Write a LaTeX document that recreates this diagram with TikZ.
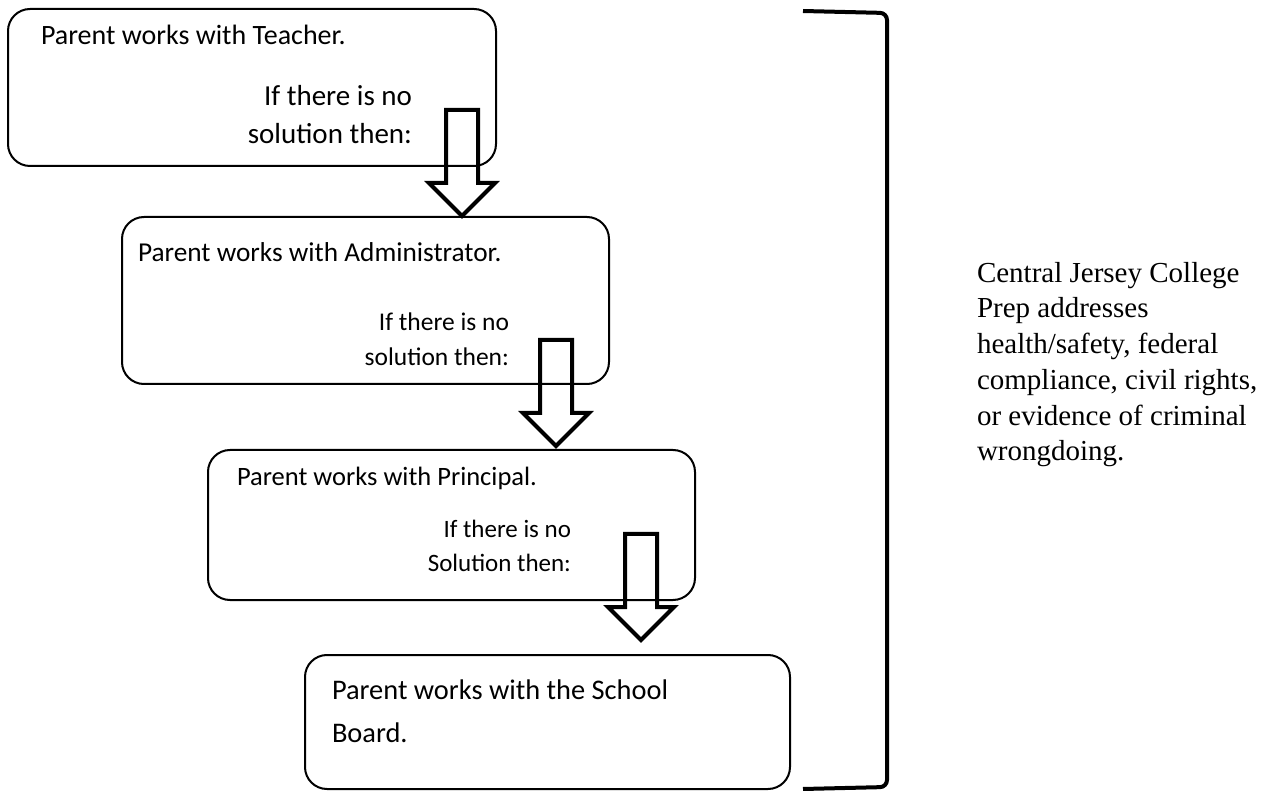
\documentclass[tikz,border=0pt]{standalone}
\usepackage{fontspec}
\setmainfont{Carlito}
\newfontfamily\timesfont{Liberation Serif}
\begin{document}
\begin{tikzpicture}[x=1pt,y=-1pt,
  stepbox/.style={draw=black,line width=2pt,rounded corners=22pt,inner sep=0pt},
  txt/.style={inner sep=0pt,outer sep=0pt},
  blockarr/.pic={\draw[line width=4pt,line join=miter] (-16,0) -- (16,0) -- (16,73) -- (33,73) -- (0,106) -- (-33,73) -- (-16,73) -- cycle;},
  bracket/.style={line width=4pt,rounded corners=7pt}]
\useasboundingbox (0,0) rectangle (1278,791);
% boxes
\node[stepbox,minimum width=488pt,minimum height=157pt] (b1) at (252,87.5) {};
\node[stepbox,minimum width=487pt,minimum height=167pt] (b2) at (365.5,300.5) {};
\node[stepbox,minimum width=487pt,minimum height=150pt] (b3) at (451.5,525) {};
\node[stepbox,minimum width=485pt,minimum height=134pt] (b4) at (547.5,722) {};
% texts
\node[txt,anchor=base west,font=\fontsize{28}{32}\selectfont] (t1) at (41,45) {Parent works with Teacher.};
\node[txt,anchor=base east,align=right,font=\fontsize{29}{38}\selectfont] (s1) at (412,144) {If there is no\\solution then:};
\node[txt,anchor=base west,font=\fontsize{27.3}{32}\selectfont] (t2) at (138,262) {Parent works with Administrator.};
\node[txt,anchor=base east,align=right,font=\fontsize{25.5}{35}\selectfont] (s2) at (509,366) {If there is no\\solution then:};
\node[txt,anchor=base west,font=\fontsize{26.5}{32}\selectfont] (t3) at (237,486) {Parent works with Principal.};
\node[txt,anchor=base east,align=right,font=\fontsize{25}{35}\selectfont] (s3) at (571,572) {If there is no\\Solution then:};
\node[txt,anchor=base west,align=left,font=\fontsize{28.4}{43}\selectfont] (t4) at (332,742) {Parent works with the School\\Board.};
\node[txt,anchor=base west,align=left,font=\timesfont\fontsize{29}{35.8}\selectfont] (side) at (977,461) {Central Jersey College\\Prep addresses\\health/safety, federal\\compliance, civil rights,\\or evidence of criminal\\wrongdoing.};
% block arrows
\pic at (462,110) {blockarr};
\pic at (556,340) {blockarr};
\pic at (641,534) {blockarr};
% bracket
\coordinate (brt) at (803,11);
\coordinate (brb) at (803,789);
\draw[bracket] (brt) -- (887,13) -- (887,787) -- (brb);
\end{tikzpicture}
\end{document}
